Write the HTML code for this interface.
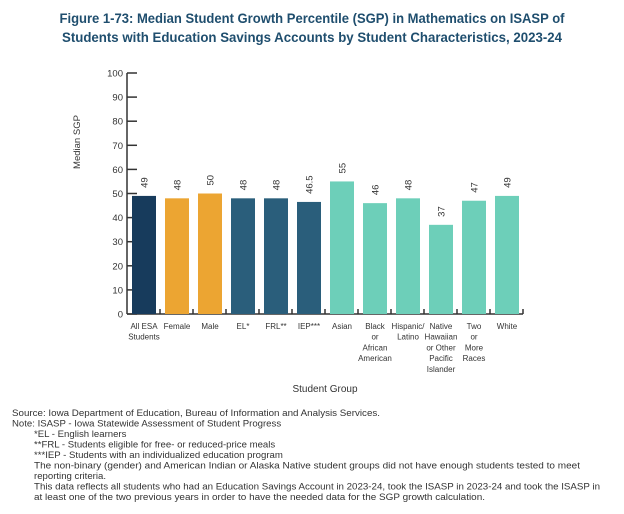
<!DOCTYPE html>
<html><head><meta charset="utf-8"><style>
body{margin:0;background:#fff;width:624px;height:509px;overflow:hidden;font-family:"Liberation Sans",sans-serif}
</style></head><body>
<svg width="624" height="509" viewBox="0 0 624 509" xmlns="http://www.w3.org/2000/svg" font-family="Liberation Sans, sans-serif">
<text x="312" y="23" text-anchor="middle" font-size="14" font-weight="bold" fill="#1f4e6e" textLength="505" lengthAdjust="spacingAndGlyphs">Figure 1-73: Median Student Growth Percentile (SGP) in Mathematics on ISASP of</text>
<text x="312" y="42" text-anchor="middle" font-size="14" font-weight="bold" fill="#1f4e6e" textLength="500" lengthAdjust="spacingAndGlyphs">Students with Education Savings Accounts by Student Characteristics, 2023-24</text>
<text transform="translate(80,142) rotate(-90)" text-anchor="middle" font-size="9.5" fill="#333">Median SGP</text>
<text x="325" y="392" text-anchor="middle" font-size="10" fill="#333">Student Group</text>
<g id="axes"></g>
<g id="bars"></g>
<g font-size="9.6" fill="#333">
<text x="12" y="416" textLength="368" lengthAdjust="spacingAndGlyphs">Source: Iowa Department of Education, Bureau of Information and Analysis Services.</text>
<text x="12" y="426.5">Note: ISASP - Iowa Statewide Assessment of Student Progress</text>
<text x="34" y="437">*EL - English learners</text>
<text x="34" y="447.5">**FRL - Students eligible for free- or reduced-price meals</text>
<text x="34" y="458">***IEP - Students with an individualized education program</text>
<text x="34" y="468.5" textLength="546" lengthAdjust="spacingAndGlyphs">The non-binary (gender) and American Indian or Alaska Native student groups did not have enough students tested to meet</text>
<text x="34" y="479">reporting criteria.</text>
<text x="34" y="489.5" textLength="566" lengthAdjust="spacingAndGlyphs">This data reflects all students who had an Education Savings Account in 2023-24, took the ISASP in 2023-24 and took the ISASP in</text>
<text x="34" y="500" textLength="451" lengthAdjust="spacingAndGlyphs">at least one of the two previous years in order to have the needed data for the SGP growth calculation.</text>
</g>
</svg>
<script>
const categories=[["All ESA","Students"],["Female"],["Male"],["EL*"],["FRL**"],["IEP***"],["Asian"],["Black","or","African","American"],["Hispanic/","Latino"],["Native","Hawaiian","or Other","Pacific","Islander"],["Two","or","More","Races"],["White"]];
const values=[49,48,50,48,48,46.5,55,46,48,37,47,49];
const valueLabels=["49","48","50","48","48","46.5","55","46","48","37","47","49"];
const groups=["all","gender","gender","prog","prog","prog","race","race","race","race","race","race"];
const yTicks=[0,10,20,30,40,50,60,70,80,90,100];
const colors={all:"#173b5c",gender:"#eca532",prog:"#2a5e7b",race:"#6dcfb9"};
const NS="http://www.w3.org/2000/svg";
const x0=127,slot=33,barW=24,y0=314,y100=73;
const yS=v=>y0-(v/100)*(y0-y100);
const xS=i=>x0+i*slot;
function mk(t,a,p){const e=document.createElementNS(NS,t);for(const k in a)e.setAttribute(k,a[k]);p.appendChild(e);return e;}
const ax=document.getElementById('axes'),bg=document.getElementById('bars');
const yl=mk('line',{x1:x0,x2:x0,y1:y100,y2:y0,stroke:'#333','stroke-width':1.5},ax);


const xl=mk('line',{x1:x0,x2:xS(categories.length),y1:y0,y2:y0,stroke:'#333','stroke-width':1.5},ax);


yTicks.forEach(t=>{
  const tk=mk('line',{x1:x0,x2:x0+10,y1:yS(t),y2:yS(t),stroke:'#333','stroke-width':1.5},ax);
  
  
  const lb=mk('text',{x:x0-4,y:yS(t)+3.5,'text-anchor':'end','font-size':9.5,fill:'#333'},ax);
  lb.textContent=t;
  
  
});
for(let i=1;i<=categories.length;i++){
  const tk=mk('line',{x1:xS(i),x2:xS(i),y1:y0,y2:y0-5,stroke:'#333','stroke-width':1.5},ax);
  
  
}
values.forEach((v,i)=>{
  const bx=xS(i)+5;
  const r=mk('rect',{x:bx,y:yS(v),width:barW,height:y0-yS(v),fill:colors[groups[i]]},bg);
  
  
  const cx=bx+barW/2;
  const vl=mk('text',{transform:`translate(${cx+3.5},${yS(v)-8}) rotate(-90)`,'font-size':9.5,fill:'#333'},bg);
  vl.textContent=valueLabels[i];
  
  
  categories[i].forEach((ln,j)=>{
    const t=mk('text',{x:cx,y:y0+15+j*10.7,'text-anchor':'middle','font-size':8,fill:'#333'},bg);
    t.textContent=ln;
    
    
  });
});
</script>
</body></html>
